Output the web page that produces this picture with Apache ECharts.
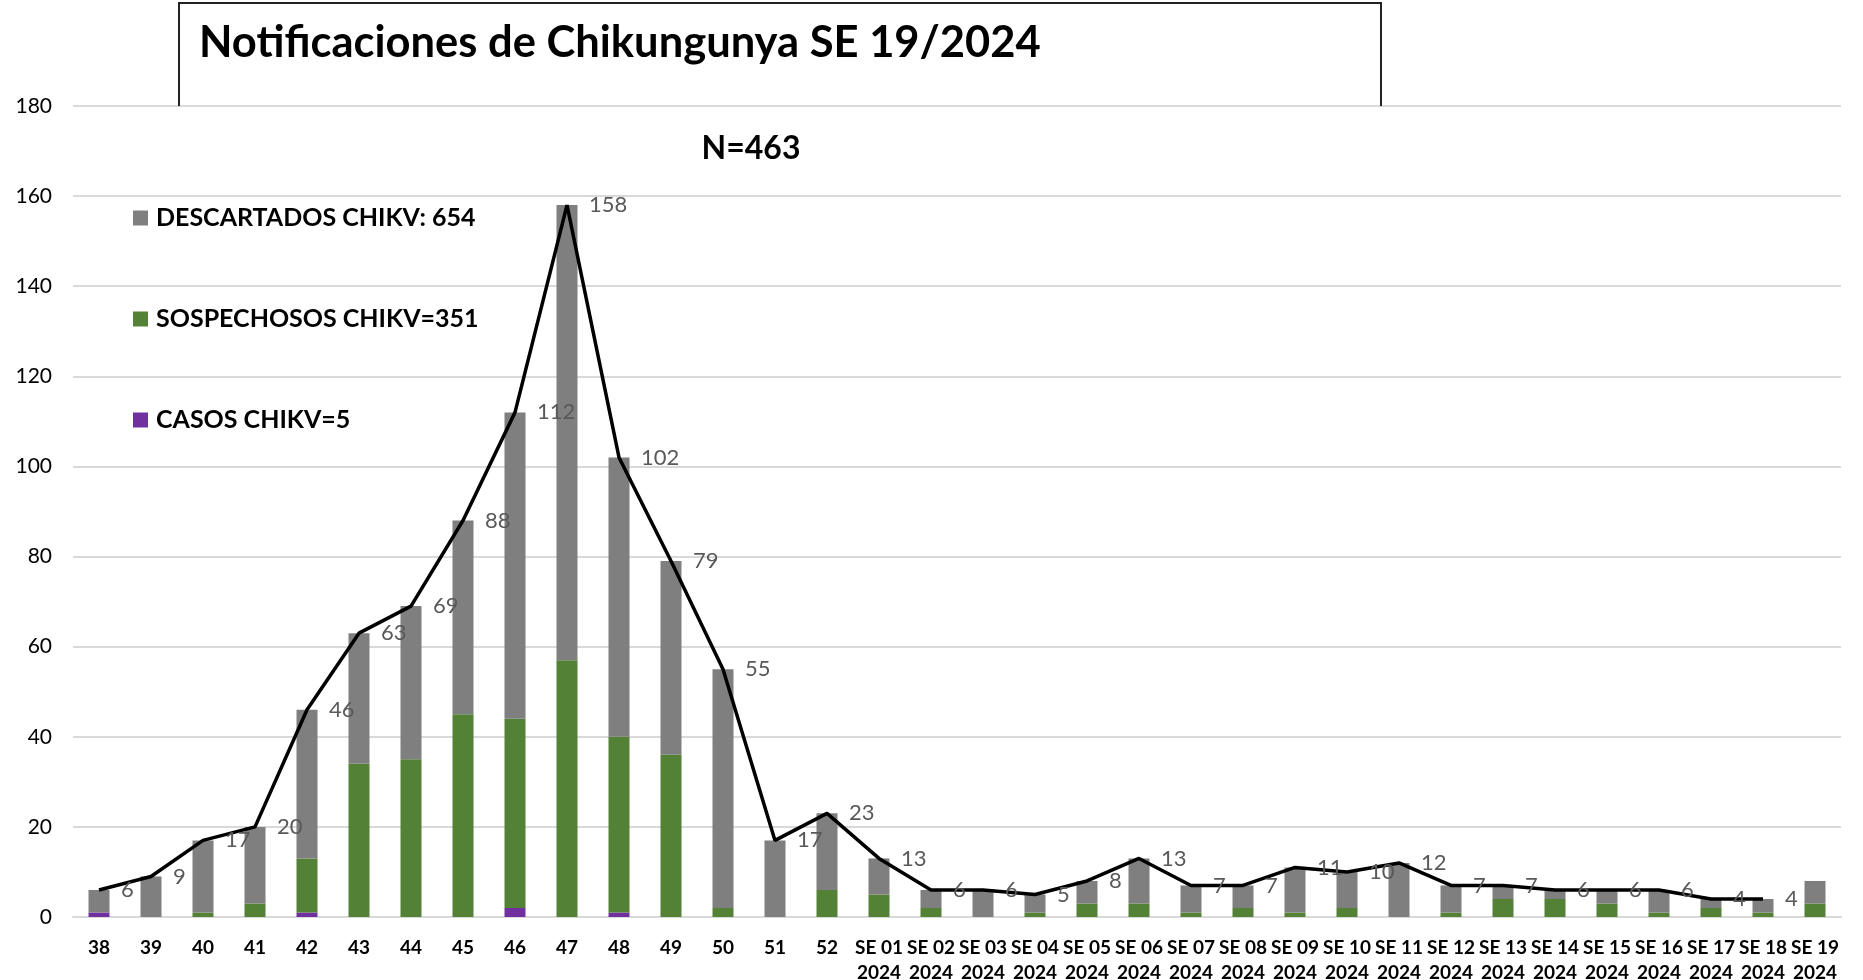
<!DOCTYPE html>
<html>
<head>
<meta charset="utf-8">
<script src="https://cdn.jsdelivr.net/npm/echarts@6/dist/echarts.min.js"></script>
<style>
html,body{margin:0;padding:0;background:#fff;}
#chart{width:1863px;height:980px;}
</style>
</head>
<body>
<div id="chart"></div>
<script>
const categories = ['38','39','40','41','42','43','44','45','46','47','48','49','50','51','52',
  'SE 01\n2024','SE 02\n2024','SE 03\n2024','SE 04\n2024','SE 05\n2024','SE 06\n2024','SE 07\n2024',
  'SE 08\n2024','SE 09\n2024','SE 10\n2024','SE 11\n2024','SE 12\n2024','SE 13\n2024','SE 14\n2024',
  'SE 15\n2024','SE 16\n2024','SE 17\n2024','SE 18\n2024','SE 19\n2024'];
const casos        = [1,0,0,0,1,0,0,0,2,0,1,0,0,0,0, 0,0,0,0,0,0,0,0,0,0,0,0,0,0,0,0,0,0,0];
const sospechosos  = [0,0,1,3,12,34,35,45,42,57,39,36,2,0,6, 5,2,0,1,3,3,1,2,1,2,0,1,4,4,3,1,2,1,3];
const descartados  = [5,9,16,17,33,29,34,43,68,101,62,43,53,17,17, 8,4,6,4,5,10,6,5,10,8,12,6,3,2,3,5,2,3,5];
const totales      = [6,9,17,20,46,63,69,88,112,158,102,79,55,17,23, 13,6,6,5,8,13,7,7,11,10,12,7,7,6,6,6,4,4,'-'];
const yTicks = {min:0, max:180, interval:20};
const titleText = 'Notificaciones de Chikungunya SE 19/2024';
const subtitleText = 'N=463';
const names = ['DESCARTADOS CHIKV: 654','SOSPECHOSOS CHIKV=351','CASOS CHIKV=5'];

const FONT = 'Lato, "Open Sans", sans-serif';
const chart = echarts.init(document.getElementById('chart'), null, {renderer:'canvas'});
const barW = 21;
chart.setOption({
  animation:false,
  backgroundColor:'#fff',
  title:{text:titleText, left:199, top:21, padding:0,
    textStyle:{fontFamily:FONT, fontWeight:'bold', fontSize:43.5, color:'#000'}},
  graphic:[
    {type:'polyline', shape:{points:[[179,106],[179,3],[1381,3],[1381,106]]},
     style:{stroke:'#222', lineWidth:2, fill:null}, z:10},
    {type:'text', x:751, y:149, style:{text:subtitleText, x:0, y:0, align:'center', verticalAlign:'middle',
      font:'bold 32px '+FONT, fill:'#000'}}
  ],
  legend:{
    orient:'vertical', left:128, top:200, itemWidth:15, itemHeight:15, itemGap:75,
    icon:'rect',
    data:[names[0],names[1],names[2]],
    textStyle:{fontFamily:FONT, fontWeight:'bold', fontSize:25, color:'#000', lineHeight:26, padding:[0,0,0,3]}
  },
  grid:{left:73, right:22, top:106, bottom:63, containLabel:false, outerBoundsMode:'none'},
  xAxis:{type:'category', data:categories,
    axisLine:{show:true, lineStyle:{color:'#d9d9d9', width:2}},
    axisTick:{show:false},
    axisLabel:{interval:0, margin:18, fontFamily:FONT, fontWeight:'bold', fontSize:19, color:'#000', lineHeight:25}
  },
  yAxis:{type:'value', min:yTicks.min, max:yTicks.max, interval:yTicks.interval,
    axisLine:{show:false}, axisTick:{show:false},
    splitLine:{lineStyle:{color:'#d9d9d9', width:2}},
    axisLabel:{margin:21, fontFamily:FONT, fontSize:21, color:'#000'}
  },
  series:[
    {name:names[2], type:'bar', stack:'a', data:casos, barWidth:barW, itemStyle:{color:'#7030a0'}},
    {name:names[1], type:'bar', stack:'a', data:sospechosos, barWidth:barW, itemStyle:{color:'#538135'}},
    {name:names[0], type:'bar', stack:'a', data:descartados, barWidth:barW, itemStyle:{color:'#7f7f7f'}},
    {name:'Total', type:'line', data:totales, symbol:'circle', symbolSize:0, showSymbol:true, z:5,
      itemStyle:{color:'#000'},
      lineStyle:{color:'#000', width:3.5},
      labelLayout:{hideOverlap:false},
      label:{show:true, position:'right', distance:22, fontFamily:FONT, fontSize:22, color:'#595959'}}
  ]
});
</script>
</body>
</html>
